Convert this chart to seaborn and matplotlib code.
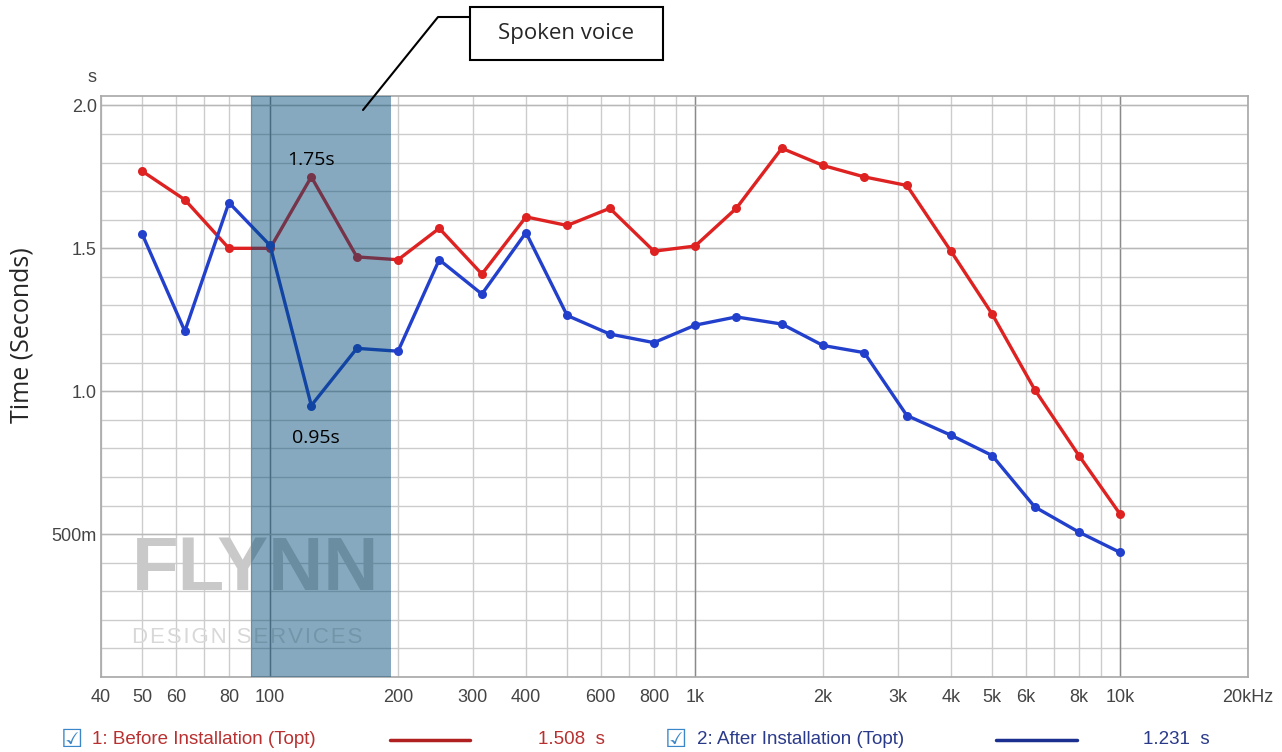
import matplotlib
matplotlib.use('Agg')
import matplotlib.pyplot as plt
import seaborn as sns
import pandas as pd
from matplotlib.ticker import FixedLocator, FixedFormatter, NullFormatter
from matplotlib.patches import Rectangle

#%% data (1/3 octave bands, reverberation time in s)
freqs = [50, 63, 80, 100, 125, 160, 200, 250, 315, 400, 500, 630, 800, 1000,
         1250, 1600, 2000, 2500, 3150, 4000, 5000, 6300, 8000, 10000]
before = [1.77, 1.67, 1.50, 1.50, 1.75, 1.47, 1.46, 1.57, 1.41, 1.61, 1.58, 1.64,
          1.49, 1.508, 1.64, 1.85, 1.79, 1.75, 1.72, 1.49, 1.27, 1.005, 0.775, 0.57]
after = [1.55, 1.21, 1.66, 1.51, 0.95, 1.15, 1.14, 1.46, 1.34, 1.555, 1.265, 1.20,
         1.17, 1.231, 1.26, 1.235, 1.16, 1.135, 0.915, 0.846, 0.775, 0.595, 0.507, 0.436]
series_names = ['1: Before Installation (Topt)', '2: After Installation (Topt)']
series_values = ['1.508  s', '1.231  s']

xtick_pos = [40, 50, 60, 80, 100, 200, 300, 400, 600, 800, 1000, 2000, 3000,
             4000, 5000, 6000, 8000, 10000, 20000]
xtick_lab = ['40', '50', '60', '80', '100', '200', '300', '400', '600', '800', '1k',
             '2k', '3k', '4k', '5k', '6k', '8k', '10k', '20kHz']
xminor_pos = [70, 90, 500, 700, 900, 7000, 9000]
ytick_pos = [0.5, 1.0, 1.5, 2.0]
ytick_lab = ['500m', '1.0', '1.5', '2.0']
band = (90, 193)   # spoken voice range, Hz

df = pd.DataFrame({'freq': freqs * 2,
                   'rt': before + after,
                   'series': [series_names[0]] * len(freqs) + [series_names[1]] * len(freqs)})

#%% plot
sns.set_theme(style='white')
plt.rcParams['font.family'] = ['Liberation Sans', 'DejaVu Sans']

W, H = 1282, 752
fig = plt.figure(figsize=(W / 100, H / 100), dpi=100)
ax = fig.add_axes([101 / W, 1 - 677 / H, (1248 - 101) / W, (677 - 96) / H])

red = '#de2222'
blue = '#2240cc'
sns.lineplot(data=df, x='freq', y='rt', hue='series', palette=[red, blue],
             marker='o', markersize=6.5, markeredgewidth=0, linewidth=2.4,
             ax=ax, legend=False, zorder=3)

ax.set_xscale('log')
ax.set_xlim(40, 20000)
ax.set_ylim(0, 2.033)

ax.xaxis.set_major_locator(FixedLocator(xtick_pos))
ax.xaxis.set_major_formatter(FixedFormatter(xtick_lab))
ax.xaxis.set_minor_locator(FixedLocator(xminor_pos))
ax.xaxis.set_minor_formatter(NullFormatter())
ax.yaxis.set_major_locator(FixedLocator(ytick_pos))
ax.yaxis.set_major_formatter(FixedFormatter(ytick_lab))
ax.yaxis.set_minor_locator(FixedLocator([i / 10 for i in range(1, 21)]))

ax.grid(True, which='both', color='#cccccc', linewidth=1)
for f in [100, 1000, 10000]:
    ax.axvline(f, color='#8a8a8a', linewidth=1, zorder=1)
for v in ytick_pos:
    ax.axhline(v, color='#b8b8b8', linewidth=1, zorder=1)
ax.set_axisbelow(True)
ax.tick_params(which='both', length=0, labelsize=13, colors='#444444')
ax.tick_params(axis='x', pad=9)
ax.tick_params(axis='y', pad=3)
for s in ax.spines.values():
    s.set_color('#aaaaaa')
ax.set_xlabel('')
ax.set_ylabel('')

# watermark
ax.text(0.027, 0.15, 'FLYNN', transform=ax.transAxes, fontsize=55, fontweight='bold',
        color='#c9c9c9', zorder=2)
ax.text(0.027, 0.058, '\u200a'.join('DESIGN SERVICES'), transform=ax.transAxes,
        fontsize=16, color='#d8d8d8', zorder=2)

# spoken voice band on top of the lines
ax.axvspan(band[0], band[1], color='#004a77', alpha=0.47, lw=0, zorder=4)

# point labels
ax.text(125, 1.81, '1.75s', ha='center', va='center', fontsize=14, color='black',
        family=['Open Sans', 'DejaVu Sans'], zorder=5)
ax.text(128, 0.836, '0.95s', ha='center', va='center', fontsize=14, color='black',
        family=['Open Sans', 'DejaVu Sans'], zorder=5)

# callout box
fig.add_artist(plt.Line2D([363 / W, 438 / W, 470 / W],
                          [1 - 110 / H, 1 - 17 / H, 1 - 17 / H],
                          color='black', linewidth=1.5))
fig.add_artist(Rectangle((470 / W, 1 - 60 / H), 193 / W, 53 / H, transform=fig.transFigure,
                         fc='white', ec='black', lw=1.5))
fig.text(566 / W, 1 - 34 / H, 'Spoken voice', ha='center', va='center', fontsize=16,
         family=['Open Sans', 'DejaVu Sans'])

# axis labels
fig.text(92 / W, 1 - 78 / H, 's', ha='center', va='center', fontsize=13, color='#444444')
fig.text(22 / W, 1 - 335 / H, 'Time (Seconds)', rotation=90, ha='center', va='center',
         fontsize=18, family=['Open Sans', 'DejaVu Sans'])

# legend row
leg_y = 1 - 740 / H
for box_x, txt_x, l0, l1, val_x, name, val, col, lc in [
        (72, 92, 390, 470, 538, series_names[0], series_values[0], '#b83030', '#b02020'),
        (676, 697, 996, 1077, 1143, series_names[1], series_values[1], '#2a3a8a', '#1a2f90')]:
    fig.text(box_x / W, leg_y, '\u2611', ha='center', va='center', fontsize=18,
             color='#3a86c8', family=['DejaVu Sans'])
    fig.text(txt_x / W, leg_y, name, ha='left', va='center', fontsize=13.5, color=col)
    fig.add_artist(plt.Line2D([l0 / W, l1 / W], [leg_y, leg_y], color=lc, linewidth=2.5))
    fig.text(val_x / W, leg_y, val, ha='left', va='center', fontsize=13.5, color=col)

plt.savefig('out.png', dpi=100)
